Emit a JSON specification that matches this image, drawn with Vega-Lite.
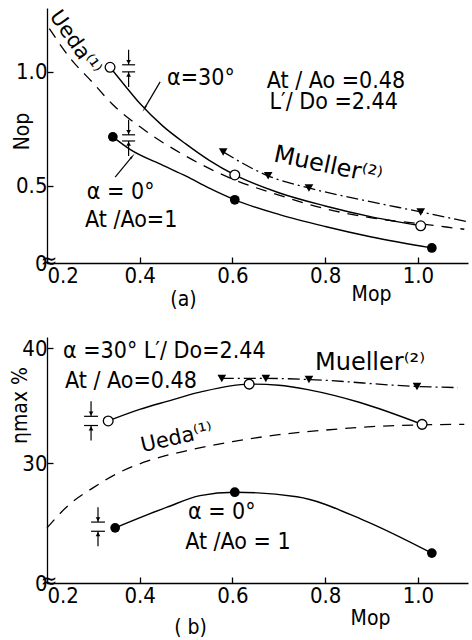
{
  "$schema": "https://vega.github.io/schema/vega-lite/v6.json",
  "autosize": {"type": "pad"},
  "padding": {"left": 9, "top": 6, "right": 0, "bottom": 0},
  "background": "white",
  "bounds": "flush",
  "spacing": 74,
  "config": {
    "font": "DejaVu Sans Condensed, DejaVu Sans",
    "view": {"stroke": null},
    "axis": {
      "domainColor": "black", "tickColor": "black", "labelColor": "black", "titleColor": "black",
      "labelFont": "DejaVu Sans Condensed, DejaVu Sans", "titleFont": "DejaVu Sans Condensed, DejaVu Sans",
      "labelFontSize": 22, "titleFontSize": 21, "titleFontWeight": "normal",
      "grid": false, "tickSize": -6, "domainWidth": 1.3, "tickWidth": 1.3
    },
    "text": {"font": "DejaVu Sans Condensed, DejaVu Sans", "fontSize": 23, "color": "black"}
  },
  "datasets": {
    "aLines": [
      {"s": "a30", "M": 0.336, "N": 1.02}, {"s": "a30", "M": 0.37, "N": 0.935}, {"s": "a30", "M": 0.4, "N": 0.862},
      {"s": "a30", "M": 0.45, "N": 0.762}, {"s": "a30", "M": 0.5, "N": 0.683}, {"s": "a30", "M": 0.55, "N": 0.612},
      {"s": "a30", "M": 0.605, "N": 0.548}, {"s": "a30", "M": 0.7, "N": 0.47}, {"s": "a30", "M": 0.8, "N": 0.412},
      {"s": "a30", "M": 0.9, "N": 0.364}, {"s": "a30", "M": 1.006, "N": 0.325},
      {"s": "a0", "M": 0.342, "N": 0.715}, {"s": "a0", "M": 0.379, "N": 0.66}, {"s": "a0", "M": 0.45, "N": 0.59},
      {"s": "a0", "M": 0.5, "N": 0.543}, {"s": "a0", "M": 0.55, "N": 0.49}, {"s": "a0", "M": 0.605, "N": 0.439},
      {"s": "a0", "M": 0.7, "N": 0.375}, {"s": "a0", "M": 0.8, "N": 0.322}, {"s": "a0", "M": 0.9, "N": 0.276},
      {"s": "a0", "M": 1.03, "N": 0.228}
    ],
    "aUeda": [
      {"M": 0.205, "N": 1.19}, {"M": 0.25, "N": 1.06}, {"M": 0.3, "N": 0.95}, {"M": 0.34, "N": 0.86},
      {"M": 0.4, "N": 0.76}, {"M": 0.5, "N": 0.63}, {"M": 0.6, "N": 0.53}, {"M": 0.7, "N": 0.46},
      {"M": 0.8, "N": 0.4}, {"M": 0.9, "N": 0.36}, {"M": 1.0, "N": 0.335}, {"M": 1.1, "N": 0.31}
    ],
    "aMueller": [
      {"M": 0.58, "N": 0.649}, {"M": 0.677, "N": 0.544}, {"M": 0.765, "N": 0.491},
      {"M": 0.9, "N": 0.43}, {"M": 1.006, "N": 0.386}, {"M": 1.108, "N": 0.342}
    ],
    "aPoints": [
      {"k": "open", "M": 0.336, "N": 1.02}, {"k": "open", "M": 0.605, "N": 0.548}, {"k": "open", "M": 1.006, "N": 0.325},
      {"k": "filled", "M": 0.342, "N": 0.715}, {"k": "filled", "M": 0.605, "N": 0.439}, {"k": "filled", "M": 1.03, "N": 0.228},
      {"k": "tri", "M": 0.58, "N": 0.649}, {"k": "tri", "M": 0.677, "N": 0.544}, {"k": "tri", "M": 0.765, "N": 0.491}, {"k": "tri", "M": 1.006, "N": 0.386}
    ],
    "bLines": [
      {"s": "a30", "M": 0.332, "E": 33.7}, {"s": "a30", "M": 0.4, "E": 34.7}, {"s": "a30", "M": 0.459, "E": 35.4},
      {"s": "a30", "M": 0.53, "E": 36.2}, {"s": "a30", "M": 0.636, "E": 36.9}, {"s": "a30", "M": 0.7, "E": 36.8},
      {"s": "a30", "M": 0.765, "E": 36.4}, {"s": "a30", "M": 0.875, "E": 35.3}, {"s": "a30", "M": 1.009, "E": 33.4},
      {"s": "a0", "M": 0.347, "E": 24.4}, {"s": "a0", "M": 0.459, "E": 26.2}, {"s": "a0", "M": 0.53, "E": 27.2},
      {"s": "a0", "M": 0.605, "E": 27.5}, {"s": "a0", "M": 0.739, "E": 27.1}, {"s": "a0", "M": 0.881, "E": 25.1},
      {"s": "a0", "M": 1.03, "E": 22.2}
    ],
    "bUeda": [
      {"M": 0.2, "E": 24.4}, {"M": 0.25, "E": 26.5}, {"M": 0.3, "E": 27.9}, {"M": 0.35, "E": 29.1},
      {"M": 0.416, "E": 30.2}, {"M": 0.5, "E": 31.1}, {"M": 0.6, "E": 31.9}, {"M": 0.7, "E": 32.5},
      {"M": 0.8, "E": 32.9}, {"M": 0.9, "E": 33.2}, {"M": 1.0, "E": 33.35}, {"M": 1.1, "E": 33.4}
    ],
    "bMueller": [
      {"M": 0.577, "E": 37.4}, {"M": 0.672, "E": 37.4}, {"M": 0.765, "E": 37.3}, {"M": 0.998, "E": 36.7}, {"M": 1.086, "E": 36.6}
    ],
    "bPoints": [
      {"k": "open", "M": 0.332, "E": 33.7}, {"k": "open", "M": 0.636, "E": 36.9}, {"k": "open", "M": 1.009, "E": 33.4},
      {"k": "filled", "M": 0.347, "E": 24.4}, {"k": "filled", "M": 0.605, "E": 27.5}, {"k": "filled", "M": 1.03, "E": 22.2},
      {"k": "tri", "M": 0.577, "E": 37.4}, {"k": "tri", "M": 0.672, "E": 37.4}, {"k": "tri", "M": 0.765, "E": 37.3}, {"k": "tri", "M": 0.998, "E": 36.7}
    ],
    "aRules": [
      {"M": 0.444, "N": 0.956, "M2": 0.411, "N2": 0.842},
      {"M": 0.347, "N": 0.539, "M2": 0.383, "N2": 0.627},
      {"M": 0.362, "N": 1.031, "M2": 0.39, "N2": 1.031},
      {"M": 0.362, "N": 1.0, "M2": 0.39, "N2": 1.0},
      {"M": 0.362, "N": 0.724, "M2": 0.39, "N2": 0.724},
      {"M": 0.362, "N": 0.697, "M2": 0.39, "N2": 0.697},
      {"M": 0.376, "N": 1.097, "M2": 0.376, "N2": 1.031},
      {"M": 0.376, "N": 1.0, "M2": 0.376, "N2": 0.934},
      {"M": 0.376, "N": 0.79, "M2": 0.376, "N2": 0.724},
      {"M": 0.376, "N": 0.697, "M2": 0.376, "N2": 0.631}
    ],
    "aHeads": [
      {"d": "down", "M": 0.376, "N": 1.043}, {"d": "up", "M": 0.376, "N": 0.988},
      {"d": "down", "M": 0.376, "N": 0.736}, {"d": "up", "M": 0.376, "N": 0.685}
    ],
    "bRules": [
      {"M": 0.28, "E": 34.1, "M2": 0.31, "E2": 34.1},
      {"M": 0.28, "E": 33.3, "M2": 0.31, "E2": 33.3},
      {"M": 0.295, "E": 24.9, "M2": 0.325, "E2": 24.9},
      {"M": 0.295, "E": 24.1, "M2": 0.325, "E2": 24.1},
      {"M": 0.295, "E": 35.4, "M2": 0.295, "E2": 34.1},
      {"M": 0.295, "E": 33.3, "M2": 0.295, "E2": 32.0},
      {"M": 0.31, "E": 26.2, "M2": 0.31, "E2": 24.9},
      {"M": 0.31, "E": 24.1, "M2": 0.31, "E2": 22.8}
    ],
    "bHeads": [
      {"d": "down", "M": 0.295, "E": 34.35}, {"d": "up", "M": 0.295, "E": 33.05},
      {"d": "down", "M": 0.31, "E": 25.15}, {"d": "up", "M": 0.31, "E": 23.85}
    ]
  },
  "vconcat": [
    {
      "width": 421, "height": 255,
      "title": {"text": "(a)", "orient": "bottom", "anchor": "middle", "dx": -74, "offset": -15, "fontSize": 21, "fontWeight": "normal", "font": "DejaVu Sans Condensed, DejaVu Sans"},
      "encoding": {
        "x": {"type": "quantitative", "scale": {"domain": [0.2, 1.108], "nice": false, "zero": false},
              "axis": {"values": [0.2, 0.4, 0.6, 0.8, 1.0], "format": ".1f", "labelPadding": 8, "title": "Mop", "titleX": 324, "titleY": 20, "titleAlign": "center", "titleBaseline": "top"}},
        "y": {"type": "quantitative", "scale": {"domain": [0.162, 1.28], "nice": false, "zero": false},
              "axis": {"values": [0.162, 0.5, 1.0], "labelExpr": "datum.value < 0.2 ? '0\u00a0' : format(datum.value, '.1f')", "labelPadding": 6, "title": "Nop", "titleX": -15, "titleY": 123, "titleAlign": "center"}}
      },
      "layer": [
        {"data": {"name": "aLines"}, "mark": {"type": "line", "color": "black", "strokeWidth": 1.4, "interpolate": "monotone"},
         "encoding": {"x": {"field": "M"}, "y": {"field": "N"}, "detail": {"field": "s"}}},
        {"data": {"name": "aUeda"}, "mark": {"type": "line", "color": "black", "strokeWidth": 1.3, "strokeDash": [11, 8], "interpolate": "monotone"},
         "encoding": {"x": {"field": "M"}, "y": {"field": "N"}}},
        {"data": {"name": "aMueller"}, "mark": {"type": "line", "color": "black", "strokeWidth": 1.3, "strokeDash": [12, 4, 2, 4], "interpolate": "monotone"},
         "encoding": {"x": {"field": "M"}, "y": {"field": "N"}}},
        {"data": {"name": "aPoints"}, "transform": [{"filter": "datum.k == 'open'"}],
         "mark": {"type": "point", "shape": "circle", "filled": true, "fill": "white", "stroke": "black", "strokeWidth": 1.3, "size": 95, "opacity": 1},
         "encoding": {"x": {"field": "M"}, "y": {"field": "N"}}},
        {"data": {"name": "aPoints"}, "transform": [{"filter": "datum.k == 'filled'"}],
         "mark": {"type": "point", "shape": "circle", "filled": true, "color": "black", "size": 95, "opacity": 1},
         "encoding": {"x": {"field": "M"}, "y": {"field": "N"}}},
        {"data": {"name": "aPoints"}, "transform": [{"filter": "datum.k == 'tri'"}],
         "mark": {"type": "point", "shape": "triangle-down", "filled": true, "color": "black", "size": 75, "opacity": 1},
         "encoding": {"x": {"field": "M"}, "y": {"field": "N"}}},
        {"data": {"values": [
           {"t": "α=30°", "M": 0.459, "N": 0.974},
           {"t": "At / Ao =0.48", "M": 0.674, "N": 0.961},
           {"t": "L′/ Do =2.44", "M": 0.68, "N": 0.866},
           {"t": "α = 0°", "M": 0.286, "N": 0.474},
           {"t": "At /Ao=1", "M": 0.282, "N": 0.351}
         ]},
         "mark": {"type": "text", "align": "left", "baseline": "middle"},
         "encoding": {"x": {"field": "M"}, "y": {"field": "N"}, "text": {"field": "t"}}},
        {"data": {"values": [{"t": "Mueller⁽²⁾", "M": 0.806, "N": 0.588}]},
         "mark": {"type": "text", "align": "center", "baseline": "middle", "angle": 12, "font": "DejaVu Sans", "fontSize": 24},
         "encoding": {"x": {"field": "M"}, "y": {"field": "N"}, "text": {"field": "t"}}},
        {"data": {"values": [{"t": "Ueda⁽¹⁾", "M": 0.26, "N": 1.127}]},
         "mark": {"type": "text", "align": "center", "baseline": "middle", "angle": 55, "font": "DejaVu Sans", "fontSize": 21},
         "encoding": {"x": {"field": "M"}, "y": {"field": "N"}, "text": {"field": "t"}}},
        {"data": {"values": [{"t": "≈", "M": 0.2, "N": 0.162}]},
         "mark": {"type": "text", "align": "center", "baseline": "middle", "fontSize": 22, "dx": 2, "dy": -2},
         "encoding": {"x": {"field": "M"}, "y": {"field": "N"}, "text": {"field": "t"}}},
        {"data": {"name": "aRules"},
         "mark": {"type": "rule", "color": "black", "strokeWidth": 1.2},
         "encoding": {"x": {"field": "M"}, "y": {"field": "N"}, "x2": {"field": "M2"}, "y2": {"field": "N2"}}},
        {"data": {"name": "aHeads"}, "transform": [{"filter": "datum.d == 'down'"}],
         "mark": {"type": "point", "shape": "triangle-down", "filled": true, "color": "black", "size": 22, "opacity": 1},
         "encoding": {"x": {"field": "M"}, "y": {"field": "N"}}},
        {"data": {"name": "aHeads"}, "transform": [{"filter": "datum.d == 'up'"}],
         "mark": {"type": "point", "shape": "triangle-up", "filled": true, "color": "black", "size": 22, "opacity": 1},
         "encoding": {"x": {"field": "M"}, "y": {"field": "N"}}},
        {"data": {"values": [{"M": 0.411, "N": 0.842}]},
         "mark": {"type": "point", "shape": "wedge", "filled": true, "color": "black", "size": 60, "angle": 210, "opacity": 1},
         "encoding": {"x": {"field": "M"}, "y": {"field": "N"}}},
        {"data": {"values": [{"M": 0.383, "N": 0.627}]},
         "mark": {"type": "point", "shape": "wedge", "filled": true, "color": "black", "size": 60, "angle": 40, "opacity": 1},
         "encoding": {"x": {"field": "M"}, "y": {"field": "N"}}}
      ]
    },
    {
      "width": 421, "height": 246,
      "title": {"text": "( b)", "orient": "bottom", "anchor": "middle", "dx": -67, "offset": -11, "fontSize": 21, "fontWeight": "normal", "font": "DejaVu Sans Condensed, DejaVu Sans"},
      "encoding": {
        "x": {"type": "quantitative", "scale": {"domain": [0.2, 1.108], "nice": false, "zero": false},
              "axis": {"values": [0.2, 0.4, 0.6, 0.8, 1.0], "format": ".1f", "labelPadding": 8, "title": "Mop", "titleX": 323, "titleY": 24, "titleAlign": "center", "titleBaseline": "top"}},
        "y": {"type": "quantitative", "scale": {"domain": [19.6, 41], "nice": false, "zero": false},
              "axis": {"values": [19.6, 30, 40], "labelExpr": "datum.value < 20 ? '0\u00a0' : format(datum.value, 'd')", "labelPadding": 6, "title": "ηmax %", "titleX": -17, "titleY": 68, "titleAlign": "center"}}
      },
      "layer": [
        {"data": {"name": "bLines"}, "mark": {"type": "line", "color": "black", "strokeWidth": 1.4, "interpolate": "monotone"},
         "encoding": {"x": {"field": "M"}, "y": {"field": "E"}, "detail": {"field": "s"}}},
        {"data": {"name": "bUeda"}, "mark": {"type": "line", "color": "black", "strokeWidth": 1.3, "strokeDash": [11, 8], "interpolate": "monotone"},
         "encoding": {"x": {"field": "M"}, "y": {"field": "E"}}},
        {"data": {"name": "bMueller"}, "mark": {"type": "line", "color": "black", "strokeWidth": 1.3, "strokeDash": [12, 4, 2, 4], "interpolate": "monotone"},
         "encoding": {"x": {"field": "M"}, "y": {"field": "E"}}},
        {"data": {"name": "bPoints"}, "transform": [{"filter": "datum.k == 'open'"}],
         "mark": {"type": "point", "shape": "circle", "filled": true, "fill": "white", "stroke": "black", "strokeWidth": 1.3, "size": 95, "opacity": 1},
         "encoding": {"x": {"field": "M"}, "y": {"field": "E"}}},
        {"data": {"name": "bPoints"}, "transform": [{"filter": "datum.k == 'filled'"}],
         "mark": {"type": "point", "shape": "circle", "filled": true, "color": "black", "size": 95, "opacity": 1},
         "encoding": {"x": {"field": "M"}, "y": {"field": "E"}}},
        {"data": {"name": "bPoints"}, "transform": [{"filter": "datum.k == 'tri'"}],
         "mark": {"type": "point", "shape": "triangle-down", "filled": true, "color": "black", "size": 75, "opacity": 1},
         "encoding": {"x": {"field": "M"}, "y": {"field": "E"}}},
        {"data": {"values": [
           {"t": "α =30°  L′/ Do=2.44", "M": 0.2345, "E": 39.8},
           {"t": "At / Ao=0.48", "M": 0.239, "E": 37.2},
           {"t": "α = 0°", "M": 0.504, "E": 25.8},
           {"t": "At /Ao = 1", "M": 0.498, "E": 23.2}
         ]},
         "mark": {"type": "text", "align": "left", "baseline": "middle"},
         "encoding": {"x": {"field": "M"}, "y": {"field": "E"}, "text": {"field": "t"}}},
        {"data": {"values": [{"t": "Mueller⁽²⁾", "M": 0.778, "E": 38.7}]},
         "mark": {"type": "text", "align": "left", "baseline": "middle", "font": "DejaVu Sans", "fontSize": 24},
         "encoding": {"x": {"field": "M"}, "y": {"field": "E"}, "text": {"field": "t"}}},
        {"data": {"values": [{"t": "Ueda⁽¹⁾", "M": 0.48, "E": 32.2}]},
         "mark": {"type": "text", "align": "center", "baseline": "middle", "angle": -13, "font": "DejaVu Sans", "fontSize": 21},
         "encoding": {"x": {"field": "M"}, "y": {"field": "E"}, "text": {"field": "t"}}},
        {"data": {"values": [{"t": "≈", "M": 0.2, "E": 19.6}]},
         "mark": {"type": "text", "align": "center", "baseline": "middle", "fontSize": 22, "dx": 2, "dy": -2},
         "encoding": {"x": {"field": "M"}, "y": {"field": "E"}, "text": {"field": "t"}}},
        {"data": {"name": "bRules"},
         "mark": {"type": "rule", "color": "black", "strokeWidth": 1.2},
         "encoding": {"x": {"field": "M"}, "y": {"field": "E"}, "x2": {"field": "M2"}, "y2": {"field": "E2"}}},
        {"data": {"name": "bHeads"}, "transform": [{"filter": "datum.d == 'down'"}],
         "mark": {"type": "point", "shape": "triangle-down", "filled": true, "color": "black", "size": 22, "opacity": 1},
         "encoding": {"x": {"field": "M"}, "y": {"field": "E"}}},
        {"data": {"name": "bHeads"}, "transform": [{"filter": "datum.d == 'up'"}],
         "mark": {"type": "point", "shape": "triangle-up", "filled": true, "color": "black", "size": 22, "opacity": 1},
         "encoding": {"x": {"field": "M"}, "y": {"field": "E"}}}
      ]
    }
  ]
}
